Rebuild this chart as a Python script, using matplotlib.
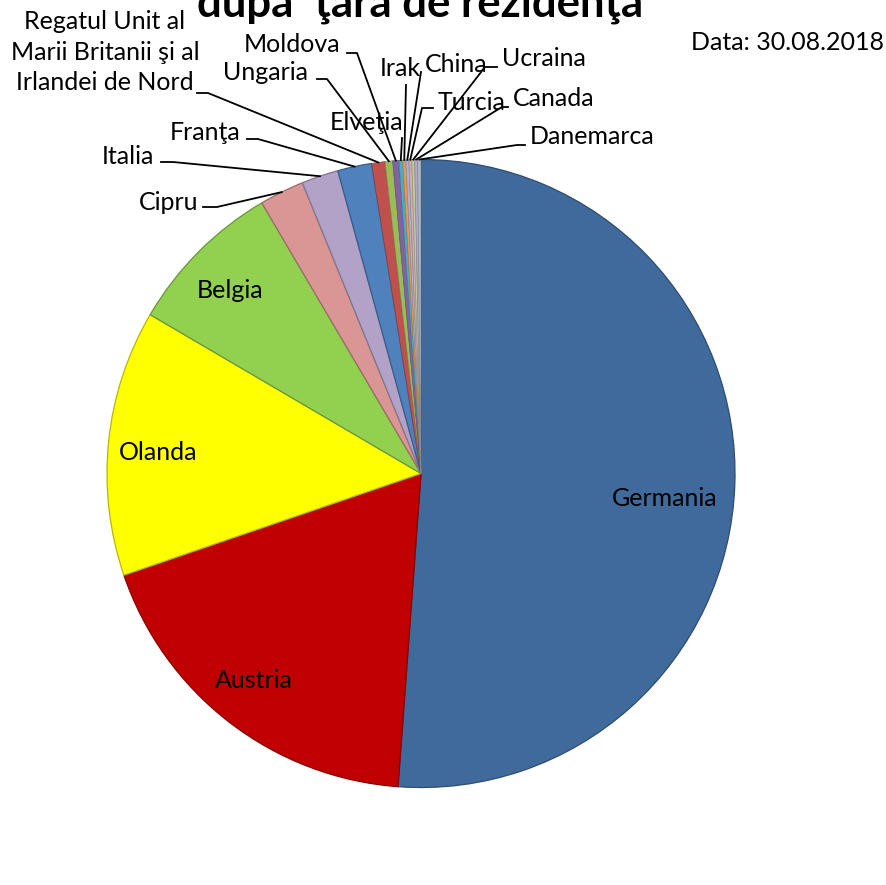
import numpy as np
import matplotlib
matplotlib.use('Agg')
import matplotlib.pyplot as plt
import matplotlib.colors as mcolors
from matplotlib.lines import Line2D

# Countries (clockwise from the top) and their share, in %
countries = ['Germania', 'Austria', 'Olanda', 'Belgia', 'Cipru', 'Italia', 'Franţa',
             'Regatul Unit al\nMarii Britanii şi al\nIrlandei de Nord',
             'Ungaria', 'Moldova', 'Elveţia', 'Irak', 'China', 'Turcia',
             'Ucraina', 'Canada', 'Danemarca']
shares = [51.2, 18.6, 13.7, 8.1, 2.3, 1.9, 1.75, 0.69, 0.39, 0.32,
          0.19, 0.16, 0.15, 0.15, 0.15, 0.15, 0.17]
colors = ['#40699c', '#c00000', '#ffff00', '#92d050', '#d99694', '#b3a2c7', '#4f81bd',
          '#c0504d', '#9bbb59', '#8064a2', '#4bacc6', '#f79646', '#a4b6d8', '#d9aaa9',
          '#bccb9f', '#b4a8cc', '#a9bac6']

title_text = 'după  ţara de rezidenţă'
date_text = 'Data: 30.08.2018'

W, H = 886, 885
plt.rcParams['font.family'] = ['Lato', 'DejaVu Sans']
FS = 18

fig = plt.figure(figsize=(W / 100, H / 100), dpi=100)
fig.patch.set_facecolor('white')


def ff(x, y):
    # reference pixel -> figure fraction
    return x / W, 1 - y / H


# pie axes: centre (421, 473.5), radius 314 px
r_px = 314
cx, cy = 421, 473.5
ax = fig.add_axes([(cx - r_px) / W, (H - cy - r_px) / H, 2 * r_px / W, 2 * r_px / H])
edge_cols = [tuple(np.array(mcolors.to_rgb(c)) * 0.72) for c in colors]
wedges, _ = ax.pie(shares, colors=colors, startangle=90, counterclock=False,
                   wedgeprops=dict(linewidth=0.9))
for w, ec, s in zip(wedges, edge_cols, shares):
    w.set_edgecolor(ec)
    if s < 1:
        w.set_linewidth(0.4)
ax.set_xlim(-1, 1)
ax.set_ylim(-1, 1)
ax.set_aspect('auto')
ax.axis('off')

# labels inside the pie
inside = {'Germania': (665, 499), 'Austria': (254, 680), 'Olanda': (158, 452), 'Belgia': (230, 291)}
for name, (x, y) in inside.items():
    fig.text(*ff(x, y), name, ha='center', va='center', fontsize=FS)

# labels outside, with leader lines: text pos, alignment, leader points before the rim
outside = {
    'Cipru': ((198, 203), 'right', [(203, 207), (217, 207)]),
    'Italia': ((154, 156), 'right', [(161, 162), (173, 162)]),
    'Franţa': ((240, 133), 'right', [(247, 139), (258, 139)]),
    countries[7]: ((105, 52), 'center', [(197, 93), (208, 93)]),
    'Ungaria': ((308, 72), 'right', [(317, 79), (327, 79)]),
    'Moldova': ((340, 45), 'right', [(347, 53), (357, 53)]),
    'Elveţia': ((367, 122), 'center', [(402, 138)]),
    'Irak': ((380, 68), 'left', [(406, 85)]),
    'China': ((425, 64), 'left', [(421, 72)]),
    'Turcia': ((438, 102), 'left', [(433, 108), (422, 108)]),
    'Ucraina': ((502, 58), 'left', [(497, 67), (485, 67)]),
    'Canada': ((513, 99), 'left', [(508, 107), (502, 107)]),
    'Danemarca': ((530, 137), 'left', [(525, 145), (517, 145)]),
}

to_fig = fig.transFigure.inverted()
for name, w in zip(countries, wedges):
    if name not in outside:
        continue
    (tx, ty), ha, pts = outside[name]
    fig.text(*ff(tx, ty), name, ha=ha, va='center', fontsize=FS,
             multialignment='center', linespacing=1.42)
    mid = np.deg2rad((w.theta1 + w.theta2) / 2)
    rim = to_fig.transform(ax.transData.transform((np.cos(mid), np.sin(mid))))
    xs = [ff(px, py)[0] for px, py in pts] + [rim[0]]
    ys = [ff(px, py)[1] for px, py in pts] + [rim[1]]
    fig.add_artist(Line2D(xs, ys, color='black', linewidth=1.3, transform=fig.transFigure))

# title (cut at the top edge, as in the source) and date
fig.text(*ff(420, 17), title_text, ha='center', va='baseline', fontsize=31.5, fontweight='bold')
fig.text(*ff(884, 42), date_text, ha='right', va='center', fontsize=FS)

fig.savefig('out.png', dpi=100, facecolor='white')
plt.close(fig)
